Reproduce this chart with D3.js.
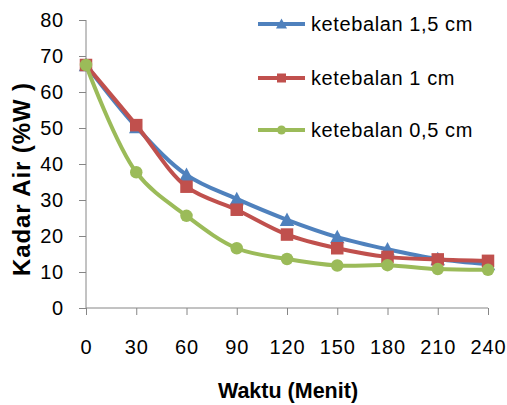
<!DOCTYPE html>
<html>
<head>
<meta charset="utf-8">
<script src="https://cdn.jsdelivr.net/npm/d3@7"></script>
<style>
  html, body { margin: 0; padding: 0; background: #fff; }
  svg { display: block; font-family: "Liberation Sans", Arial, sans-serif; }
</style>
</head>
<body>
<div id="chart"></div>
<script>
// Waktu (menit) on x, kadar air (%W) on y
const waktu = [0, 30, 60, 90, 120, 150, 180, 210, 240];
const tebal15 = [67.5, 50.3, 37, 30.3, 24.5, 19.7, 16.3, 13.6, 12.2];
const tebal10 = [67.5, 50.8, 33.7, 27.3, 20.4, 16.6, 14.2, 13.5, 13.1];
const tebal05 = [67.5, 37.7, 25.6, 16.6, 13.6, 11.8, 11.9, 10.8, 10.6];
const yTicks = [0, 10, 20, 30, 40, 50, 60, 70, 80];

const SERIES = [
  { name: 'ketebalan 1,5 cm', values: tebal15, color: '#4F81BD', marker: 'triangle' },
  { name: 'ketebalan 1 cm',   values: tebal10, color: '#C0504D', marker: 'square' },
  { name: 'ketebalan 0,5 cm', values: tebal05, color: '#9BBB59', marker: 'circle' },
];

const W = 507, H = 405;
const margin = { top: 20, right: 19, bottom: 97, left: 86 };
const innerW = W - margin.left - margin.right;
const innerH = H - margin.top - margin.bottom;
const AXIS = '#868686';

const x = d3.scaleLinear().domain([0, 240]).range([0, innerW]);
const y = d3.scaleLinear().domain([0, 80]).range([innerH, 0]);

const svg = d3.select('#chart').append('svg').attr('width', W).attr('height', H);
const g = svg.append('g').attr('transform', `translate(${margin.left},${margin.top})`);

// Y axis
g.append('g')
  .call(d3.axisLeft(y).tickValues(yTicks).tickSize(7).tickPadding(15))
  .call(ax => ax.select('.domain').attr('stroke', AXIS).attr('d', `M0,0V${innerH}`))
  .call(ax => ax.selectAll('.tick line').attr('stroke', AXIS))
  .call(ax => ax.selectAll('text').attr('fill', '#000').style('font-size', '20px').style('letter-spacing', '0.8px'));

// X axis
g.append('g')
  .attr('transform', `translate(0,${innerH})`)
  .call(d3.axisBottom(x).tickValues(waktu).tickSize(7).tickPadding(25))
  .call(ax => ax.select('.domain').attr('stroke', AXIS).attr('d', `M0,0H${innerW}`))
  .call(ax => ax.selectAll('.tick line').attr('stroke', AXIS))
  .call(ax => ax.selectAll('text').attr('fill', '#000').style('font-size', '20px').style('letter-spacing', '0.8px'));

// Axis titles
svg.append('text')
  .attr('transform', 'rotate(-90)').attr('x', -179).attr('y', 30)
  .attr('text-anchor', 'middle').style('font-size', '24px').style('font-weight', 'bold')
  .style('letter-spacing', '0.9px')
  .text('Kadar Air (%W )');

svg.append('text')
  .attr('x', 288).attr('y', 398)
  .attr('text-anchor', 'middle').style('font-size', '21.5px').style('font-weight', 'bold')
  .text('Waktu (Menit)');

// Lines + markers
const line = d3.line()
  .x((d, i) => x(waktu[i]))
  .y(d => y(d))
  .curve(d3.curveCatmullRom.alpha(0.5));

function drawMarker(sel, type, color, size) {
  if (type === 'square') {
    sel.append('rect').attr('x', -size / 2).attr('y', -size / 2)
      .attr('width', size).attr('height', size).attr('fill', color);
  } else if (type === 'circle') {
    sel.append('circle').attr('r', size / 2).attr('fill', color);
  } else {
    const s = size / 2;
    sel.append('path').attr('d', `M0,${-s - 1}L${s + 1},${s}L${-s - 1},${s}Z`).attr('fill', color);
  }
}

for (const s of SERIES) {
  g.append('path')
    .datum(s.values)
    .attr('fill', 'none')
    .attr('stroke', s.color)
    .attr('stroke-width', 4)
    .attr('stroke-linejoin', 'round')
    .attr('d', line);

  g.selectAll(null)
    .data(s.values)
    .join('g')
    .attr('transform', (d, i) => `translate(${x(waktu[i])},${y(d)})`)
    .each(function () { drawMarker(d3.select(this), s.marker, s.color, 12.5); });
}

// Legend
const legendY = [24, 78, 130];
SERIES.forEach((s, i) => {
  const lg = svg.append('g').attr('transform', `translate(258,${legendY[i]})`);
  lg.append('line').attr('x1', 0).attr('x2', 47).attr('stroke', s.color).attr('stroke-width', 4);
  lg.append('g').attr('transform', 'translate(23.5,0)')
    .call(sel => drawMarker(sel, s.marker, s.color, 9));
  lg.append('text').attr('x', 53).attr('y', 7)
    .style('font-size', '20px').style('letter-spacing', '0.6px')
    .text(s.name);
});
</script>
</body>
</html>
